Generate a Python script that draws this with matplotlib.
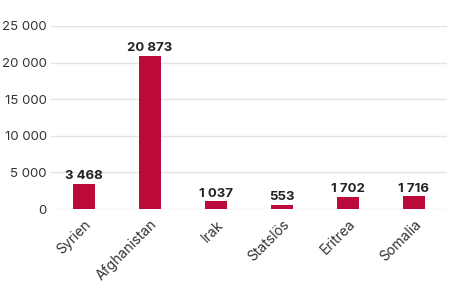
import matplotlib.pyplot as plt
import matplotlib.transforms as mtransforms
import numpy as np

countries = ['Syrien', 'Afghanistan', 'Irak', 'Statslös', 'Eritrea', 'Somalia']
values = [3468, 20873, 1037, 553, 1702, 1716]
value_labels = ['3 468', '20 873', '1 037', '553', '1 702', '1 716']
yticks = [0, 5000, 10000, 15000, 20000, 25000]
ytick_labels = ['0', '5 000', '10 000', '15 000', '20 000', '25 000']

plt.rcParams['font.family'] = ['Inter', 'DejaVu Sans']

fig = plt.figure(figsize=(4.5, 2.99), dpi=100)
ax = fig.add_axes([51 / 450, 1 - 209 / 299, 396 / 450, 183 / 299])

x = np.arange(len(countries))
ax.bar(x, values, width=0.32, color='#bb0a3a', zorder=3)

for xi, v, lab in zip(x, values, value_labels):
    ax.text(xi, v + 250, lab, ha='center', va='bottom', fontsize=9.5,
            fontweight='bold', color='#222222')

ax.set_xlim(-0.5, len(countries) - 0.5)
ax.set_ylim(0, 25000)
ax.set_yticks(yticks)
ax.set_yticklabels(ytick_labels)
ax.set_xticks(x)
ax.set_xticklabels(countries, rotation=45, ha='right', rotation_mode='anchor')

# nudge the rotated labels slightly left so they end under the bar centre
offset = mtransforms.ScaledTranslation(-4 / 72, 0, fig.dpi_scale_trans)
for lbl in ax.get_xticklabels():
    lbl.set_transform(lbl.get_transform() + offset)

ax.grid(axis='y', color='#e3e3e3', linewidth=1, zorder=0)
ax.tick_params(axis='y', length=0, pad=3, labelsize=9.5, labelcolor='#333333')
ax.tick_params(axis='x', length=0, pad=6, labelsize=10, labelcolor='#333333')
for s in ax.spines.values():
    s.set_visible(False)

fig.savefig('out.png', dpi=100)
